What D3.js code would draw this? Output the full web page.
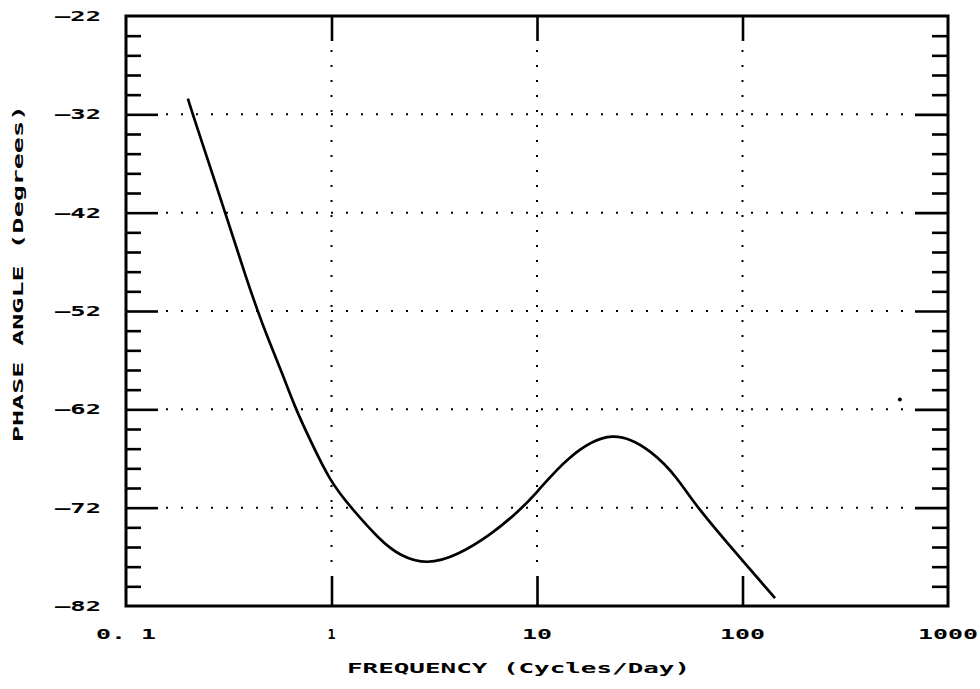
<!DOCTYPE html>
<html>
<head>
<meta charset="utf-8">
<script src="https://cdn.jsdelivr.net/npm/d3@7"></script>
<style>
  html, body { margin: 0; padding: 0; background: #fff; }
  svg { display: block; }
  text { font-family: "DejaVu Sans Mono", monospace; font-weight: bold; fill: #000; }
</style>
</head>
<body>
<svg id="chart" width="980" height="689"></svg>
<script>
// ---- data ----
const frequency = [0.200, 0.212, 0.303, 0.388, 0.434, 0.48, 0.57, 0.664, 0.79, 0.983, 1.23, 1.72, 2.15, 2.91, 4.08, 6.11, 8.09, 9.78, 14.0, 23.4, 36.7, 48.0, 60.1, 97.3, 144];
const phase     = [-30.4, -32.1, -41.9, -48.9, -51.8, -54.3, -58.1, -61.8, -65.2, -69.3, -71.9, -75.3, -76.9, -77.8, -76.9, -74.6, -72.4, -70.7, -66.8, -63.9, -66.3, -68.9, -72.0, -77.1, -81.2];
const strayFreq = [583];
const strayPhase = [-61.0];
const xTickValues = [0.1, 1, 10, 100, 1000];
const xTickLabels = ["0. 1", "1", "10", "100", "1000"];
const yTickValues = [-22, -32, -42, -52, -62, -72, -82];
const yTickLabels = ["\u201322", "\u201332", "\u201342", "\u201352", "\u201362", "\u201372", "\u201382"];
const yMinorStep = 2;
const xTitle = "FREQUENCY  (Cycles/Day)";
const yTitle = "PHASE ANGLE  (Degrees)";

// ---- layout ----
const svg = d3.select("#chart");
const L = 126, R = 948, T = 16, B = 606;
const x = d3.scaleLog().domain([0.1, 1000]).range([L, R]);
const y = d3.scaleLinear().domain([-82, -22]).range([B, T]);

// dotted grid
const grid = svg.append("g").attr("stroke", "#000").attr("stroke-width", 2)
  .attr("stroke-dasharray", "2,13").attr("fill", "none");
yTickValues.filter(v => v > -82 && v < -22).forEach(v => {
  grid.append("line").attr("x1", L + 40).attr("x2", R - 36)
    .attr("y1", y(v)).attr("y2", y(v));
});
xTickValues.filter(v => v > 0.1 && v < 1000).forEach(v => {
  grid.append("line").attr("x1", x(v)).attr("x2", x(v))
    .attr("y1", T + 34).attr("y2", B - 34);
});

// axes (ticks) using d3 axis generators
const minorVals = d3.range(-82, -21.9, yMinorStep).filter(v => !yTickValues.includes(v));
function styleAxis(g) {
  g.select(".domain").remove();
  g.selectAll(".tick line").attr("stroke", "#000").attr("stroke-width", 2.6);
  g.selectAll(".tick text").remove();
}
const majorInner = yTickValues.filter(v => v > -82 && v < -22);
svg.append("g").attr("transform", `translate(${L},0)`)
  .call(d3.axisRight(y).tickValues(minorVals).tickSize(15)).call(styleAxis);
svg.append("g").attr("transform", `translate(${L},0)`)
  .call(d3.axisRight(y).tickValues(majorInner).tickSize(32)).call(styleAxis);
svg.append("g").attr("transform", `translate(${R},0)`)
  .call(d3.axisLeft(y).tickValues(minorVals).tickSize(16)).call(styleAxis);
svg.append("g").attr("transform", `translate(${R},0)`)
  .call(d3.axisLeft(y).tickValues(majorInner).tickSize(33)).call(styleAxis);
const xInner = xTickValues.filter(v => v > 0.1 && v < 1000);
svg.append("g").attr("transform", `translate(0,${T})`)
  .call(d3.axisBottom(x).tickValues(xInner).tickSize(25)).call(styleAxis);
svg.append("g").attr("transform", `translate(0,${B})`)
  .call(d3.axisTop(x).tickValues(xInner).tickSize(30)).call(styleAxis);

// frame
svg.append("rect").attr("x", L).attr("y", T).attr("width", R - L).attr("height", B - T)
  .attr("fill", "none").attr("stroke", "#000").attr("stroke-width", 3);

// tick labels
svg.append("g").selectAll("text").data(yTickValues).join("text")
  .attr("x", 101).attr("y", d => y(d)).attr("dy", "0.36em")
  .attr("text-anchor", "end").attr("font-size", 14)
  .attr("textLength", 46).attr("lengthAdjust", "spacingAndGlyphs")
  .text((d, i) => yTickLabels[i]);
svg.append("g").selectAll("text").data(xTickValues).join("text")
  .attr("x", d => x(d)).attr("y", 634).attr("dy", "0.36em")
  .attr("text-anchor", "middle").attr("font-size", 14)
  .attr("textLength", (d, i) => xTickLabels[i].length === 1 ? 8 : xTickLabels[i].length * 15)
  .attr("lengthAdjust", "spacingAndGlyphs")
  .text((d, i) => xTickLabels[i]);

// axis titles
svg.append("text").attr("x", 347).attr("y", 673).attr("font-size", 14)
  .attr("textLength", 343).attr("lengthAdjust", "spacingAndGlyphs").text(xTitle);
svg.append("text").attr("transform", "translate(23,442) rotate(-90)")
  .attr("font-size", 14).attr("textLength", 337).attr("lengthAdjust", "spacingAndGlyphs").text(yTitle);

// curve
const pts = frequency.map((f, i) => [f, phase[i]]);
const line = d3.line().x(d => x(d[0])).y(d => y(d[1])).curve(d3.curveBasis);
svg.append("path").datum(pts).attr("d", line).attr("fill", "none")
  .attr("stroke", "#000").attr("stroke-width", 2.7).attr("stroke-linejoin", "round");

// stray dot
svg.append("g").selectAll("circle").data(strayFreq).join("circle")
  .attr("cx", d => x(d)).attr("cy", (d, i) => y(strayPhase[i])).attr("r", 2).attr("fill", "#000");
</script>
</body>
</html>
